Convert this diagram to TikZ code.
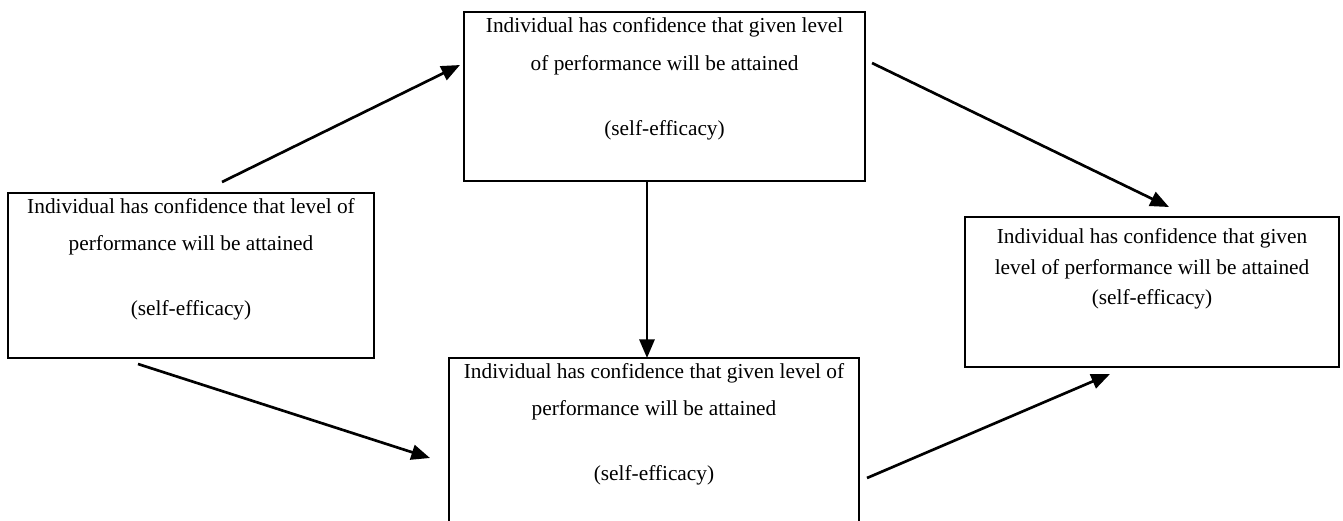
\documentclass[tikz,border=0pt]{standalone}
\usepackage{fontspec}
\setmainfont{Liberation Serif}
\usetikzlibrary{arrows.meta}

\begin{document}
\begin{tikzpicture}[
x=0.5625pt, y=-0.5625pt,
    B/.style = {draw, line width=1.6pt,% boxes with text at the top
                inner sep=0pt, outer sep=0pt, anchor=north west,
                font=\fontsize{12}{20.5}\selectfont},
    L/.style = {line width=1.5pt,% connectors
                -{Triangle[length=10.5pt,width=8.5pt]}},
                        ]
\useasboundingbox (0,0) rectangle (1343,520);
\clip (0,0) rectangle (1343,520);
% boxes
\node[B] (lbox) at (8,193) {\parbox[t][92.8pt][t]{205.9pt}{\centering\vspace*{3.3pt}%
    Individual has confidence that level of\\
    performance will be attained\\[16pt]
    (self-efficacy)}};
\node[B, font=\fontsize{12}{21.2}\selectfont] (tbox) at (464,12) {\parbox[t][95.1pt][t]{225.6pt}{\centering\vspace*{3.3pt}%
    Individual has confidence that given level\\
    of performance will be attained\\[15.5pt]
    (self-efficacy)}};
\node[B] (bbox) at (449,358) {\parbox[t][105.2pt][t]{230.6pt}{\centering\vspace*{3.3pt}%
    Individual has confidence that given level of\\
    performance will be attained\\[16pt]
    (self-efficacy)}};
\node[B, font=\fontsize{12}{17}\selectfont] (rbox) at (965,217) {\parbox[t][84.4pt][t]{210.4pt}{\centering\vspace*{6.7pt}%
    Individual has confidence that given\\
    level of performance will be attained\\
    (self-efficacy)}};
% free ends of the connectors
\coordinate (l1) at (222,182);  \coordinate (t1) at (460,65);
\coordinate (l2) at (138,364);  \coordinate (b1) at (430,458);
\coordinate (t2) at (872,63);   \coordinate (r1) at (1169,207);
\coordinate (b2) at (867,478);  \coordinate (r2) at (1110,374);
\coordinate (v)  at (647,0);
% connectors
\draw[L] (l1) -- (t1);
\draw[L] (l2) -- (b1);
\draw[L] (tbox.south -| v) -- (bbox.north -| v);
\draw[L] (t2) -- (r1);
\draw[L] (b2) -- (r2);
\end{tikzpicture}
\end{document}
